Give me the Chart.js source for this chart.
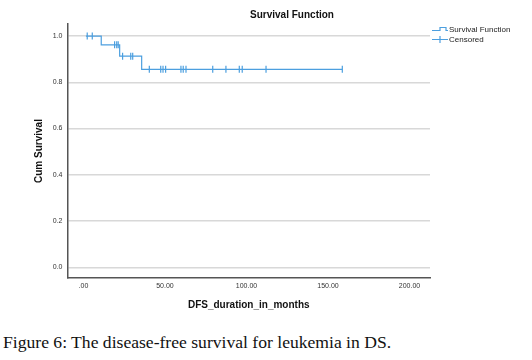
<!DOCTYPE html>
<html>
<head>
<meta charset="utf-8">
<script src="https://cdn.jsdelivr.net/npm/chart.js@4/dist/chart.umd.min.js"></script>
<style>
  body { margin: 0; background: #fff; width: 532px; height: 360px; overflow: hidden; position: relative; }
  #wrap { position: absolute; left: 0; top: 0; width: 532px; height: 315px; }
  #caption { position: absolute; left: 3px; top: 334px; font-family: "Liberation Serif", serif; font-size: 17.6px; line-height: 17px; color: #111; white-space: nowrap; }
</style>
</head>
<body>
<div id="wrap"><canvas id="km"></canvas></div>
<div id="caption">Figure 6: The disease-free survival for leukemia in DS.</div>
<script>
// step points of the survival curve
var survTimes = [1.5, 10.9, 22.2, 35.7, 158.8];
var survValues = [1.0, 0.962, 0.913, 0.856, 0.856];

// censored cases
var censorTimes = [2.3, 5.4, 19.1, 20.4, 21.3, 24.0, 29.0, 30.2, 40.4, 47.4, 48.8, 50.4,
                   59.8, 61.2, 62.9, 79.3, 87.4, 95.6, 97.4, 112.0, 158.8];
var censorValues = [1.0, 1.0, 0.962, 0.962, 0.962, 0.913, 0.913, 0.913, 0.856, 0.856, 0.856, 0.856,
                    0.856, 0.856, 0.856, 0.856, 0.856, 0.856, 0.856, 0.856, 0.856];

var xTicks = [0, 50, 100, 150, 200];
var yTicks = [0, 0.2, 0.4, 0.6, 0.8, 1.0];

var blue = '#4c9fdf';
var font = '"Liberation Sans", Arial, sans-serif';

var decor = {
    id: 'decor',
    afterDraw: function (chart) {
        var c = chart.ctx;
        c.save();
        c.fillStyle = '#111';
        c.font = 'bold 10px ' + font;
        c.textAlign = 'center';
        c.textBaseline = 'middle';
        c.fillText('Survival Function', 292, 15);

        // legend
        c.strokeStyle = blue;
        c.lineWidth = 1.2;
        c.beginPath();
        c.moveTo(432, 30.5);
        c.lineTo(440, 30.5);
        c.lineTo(440, 27.5);
        c.lineTo(446, 27.5);
        c.lineTo(446, 30.5);
        c.lineTo(448, 30.5);
        c.moveTo(432, 39.5);
        c.lineTo(448, 39.5);
        c.moveTo(440, 36);
        c.lineTo(440, 43);
        c.stroke();

        c.fillStyle = '#222';
        c.font = '8px ' + font;
        c.textAlign = 'left';
        c.fillText(chart.data.datasets[0].label, 449, 29.5);
        c.fillText(chart.data.datasets[1].label, 449, 39.5);
        c.restore();
    }
};

var ctx = document.getElementById('km').getContext('2d');

var kmChart = new Chart(ctx, {
    type: 'scatter',
    data: {
        datasets: [{
            label: 'Survival Function',
            type: 'line',
            data: survTimes.map(function (t, i) { return { x: t, y: survValues[i] }; }),
            stepped: true,
            borderColor: blue,
            borderWidth: 1.2,
            pointRadius: 0,
            fill: false
        }, {
            label: 'Censored',
            data: censorTimes.map(function (t, i) { return { x: t, y: censorValues[i] }; }),
            showLine: false,
            pointStyle: 'line',
            rotation: 90,
            pointRadius: 3.5,
            borderColor: blue,
            backgroundColor: blue,
            borderWidth: 1.2
        }]
    },
    options: {
        responsive: true,
        maintainAspectRatio: false,
        animation: false,
        layout: {
            padding: { left: 29, top: 24, right: 102, bottom: 0 }
        },
        plugins: {
            legend: { display: false },
            tooltip: { enabled: false }
        },
        scales: {
            x: {
                type: 'linear',
                min: -9.8,
                max: 212.6,
                afterBuildTicks: function (scale) {
                    scale.ticks = xTicks.map(function (v) { return { value: v }; });
                },
                afterFit: function (scale) { scale.height = 37; },
                grid: { display: false, drawTicks: false },
                border: { display: true, color: '#555', width: 1.5 },
                ticks: {
                    padding: 4,
                    color: '#333',
                    font: { family: font, size: 7 },
                    maxRotation: 0,
                    callback: function (v) { return v === 0 ? '.00' : v.toFixed(2); }
                },
                title: {
                    display: true,
                    text: 'DFS_duration_in_months',
                    color: '#111',
                    font: { family: font, size: 10, weight: 'bold' },
                    padding: { top: 4, bottom: 4 }
                }
            },
            y: {
                type: 'linear',
                min: -0.046,
                max: 1.052,
                afterBuildTicks: function (scale) {
                    scale.ticks = yTicks.map(function (v) { return { value: v }; });
                },
                afterFit: function (scale) { scale.width = 38.5; },
                grid: { color: '#d8d8d8', lineWidth: 1.5, drawTicks: false },
                border: { display: true, color: '#555', width: 1.5 },
                ticks: {
                    padding: 5,
                    color: '#333',
                    font: { family: font, size: 7 },
                    callback: function (v) { return v.toFixed(1); }
                },
                title: {
                    display: true,
                    text: 'Cum Survival',
                    color: '#111',
                    font: { family: font, size: 10, weight: 'bold' },
                    padding: { top: 4, bottom: 4 }
                }
            }
        }
    },
    plugins: [decor]
});
</script>
</body>
</html>
